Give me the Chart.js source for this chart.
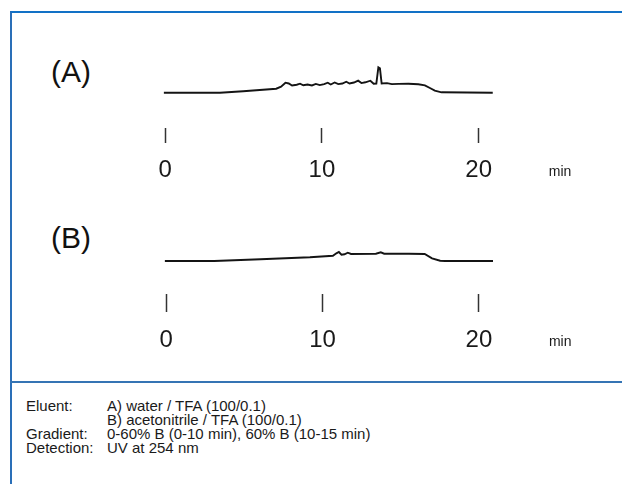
<!DOCTYPE html>
<html><head><meta charset="utf-8">
<script src="https://cdn.jsdelivr.net/npm/chart.js@4"></script>
<style>
html,body{margin:0;padding:0;background:#fff;width:622px;height:484px;overflow:hidden;font-family:"Liberation Sans",Arial,Helvetica,sans-serif;}
#frame{position:absolute;left:10px;top:11px;width:612px;height:473px;border-top:2px solid #1271c6;border-left:2px solid #2a6fb8;box-sizing:border-box;}
#divider{position:absolute;left:10px;top:381px;width:612px;height:2px;background:#3574b4;}
.lbl{position:absolute;font-size:30px;line-height:30px;color:#111;}
canvas{position:absolute;}
#foot{position:absolute;left:26px;top:399px;font-size:15px;line-height:14px;color:#1a1a1a;}
#foot div{height:14px;white-space:nowrap;}
#foot span.k{display:inline-block;width:81px;}
</style>
</head><body>
<div id="frame"></div>
<div id="divider"></div>
<div class="lbl" style="left:51px;top:57px;">(A)</div>
<div class="lbl" style="left:51px;top:223px;">(B)</div>
<canvas id="cA" width="458" height="148" style="left:146px;top:40px;"></canvas>
<canvas id="cB" width="458" height="144" style="left:146px;top:210px;"></canvas>
<div id="foot">
<div><span class="k">Eluent:</span><span>A) water / TFA (100/0.1)</span></div>
<div><span class="k"></span><span>B) acetonitrile / TFA (100/0.1)</span></div>
<div><span class="k">Gradient:</span><span>0-60% B (0-10 min), 60% B (10-15 min)</span></div>
<div><span class="k">Detection:</span><span>UV at 254 nm</span></div>
</div>
<script>
// Tick labels
const tickValues = [0, 10, 20];
const unitLabel = 'min';
const unitPos = 25.2;

// Chromatogram (A): time (min) and detector signal (arbitrary units)
const timeA = [-0.09, 3.49, 4.97, 7.08, 7.39, 7.67, 7.88, 8.09, 8.39, 8.6, 8.81, 9.08, 9.36, 9.61, 9.86, 10.14, 10.37, 10.56, 10.81, 11.04, 11.3, 11.55, 11.76, 12.04, 12.31, 12.52, 12.77, 13.09, 13.3, 13.47, 13.6, 13.7, 13.81, 14.15, 14.46, 14.89, 15.52, 16.15, 16.57, 16.89, 17.2, 17.63, 20.9];
const signalA = [0, 0, 1.4, 4.0, 6.0, 10.0, 9.2, 7.2, 8.0, 9.0, 7.4, 8.2, 7.2, 8.8, 7.6, 8.6, 10.0, 8.2, 10.2, 8.6, 9.2, 11.0, 9.2, 10.2, 12.0, 9.6, 10.4, 12.0, 9.0, 9.2, 25.4, 24.4, 9.2, 9.6, 8.6, 8.8, 9.0, 8.4, 7.4, 4.7, 2.0, 0.4, 0];

// Chromatogram (B)
const timeB = [-0.09, 3.07, 6.03, 9.19, 10.66, 10.88, 11.04, 11.21, 11.4, 11.61, 11.82, 13.41, 13.72, 13.94, 15.52, 16.53, 17.0, 17.52, 17.84, 20.9];
const signalB = [0, 0, 1.7, 3.7, 5.3, 7.7, 9.0, 6.3, 6.7, 8.3, 7.0, 7.3, 8.7, 7.3, 7.3, 7.0, 2.7, 0.3, 0, 0];

const FONT = '"Liberation Sans", Arial, Helvetica, sans-serif';
const X_MIN = -1, X_MAX = 28, AXIS_H = 60;

function makeChart(id, times, values, yMin, yMax, tickLen, pad) {
  return new Chart(document.getElementById(id), {
    type: 'line',
    data: { datasets: [{
      data: times.map((t, i) => ({ x: t, y: values[i] })),
      borderColor: '#141414', borderWidth: 1.9, pointRadius: 0, tension: 0, fill: false
    }]},
    options: {
      responsive: false, animation: false, events: [],
      layout: { padding: 0 },
      plugins: { legend: { display: false }, tooltip: { enabled: false } },
      scales: {
        x: {
          type: 'linear', min: X_MIN, max: X_MAX,
          afterFit: s => { s.height = AXIS_H; },
          afterBuildTicks: s => { s.ticks = tickValues.map(v => ({ value: v })).concat([{ value: unitPos }]); },
          border: { display: false },
          grid: {
            drawOnChartArea: false, drawTicks: true, tickLength: tickLen, tickWidth: 1.5,
            tickColor: c => (c.tick && c.tick.value === unitPos) ? 'rgba(0,0,0,0)' : '#333'
          },
          ticks: {
            padding: pad, maxRotation: 0, autoSkip: false, color: '#1a1a1a',
            font: c => (c.tick && c.tick.value === unitPos) ? { family: FONT, size: 14, lineHeight: 2.3 } : { family: FONT, size: 24 },
            callback: v => v === unitPos ? unitLabel : String(v)
          }
        },
        y: { display: false, min: yMin, max: yMax }
      }
    }
  });
}

makeChart('cA', timeA, signalA, -35.3, 52.7, 15, 12.6);
makeChart('cB', timeB, signalB, -33, 51, 18, 13.6);
</script>
</body></html>
